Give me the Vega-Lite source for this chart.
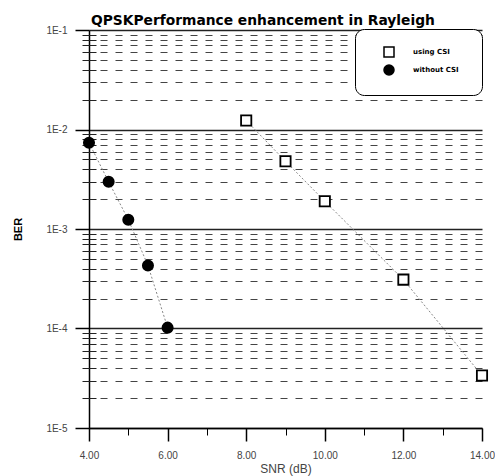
{
  "$schema": "https://vega.github.io/schema/vega-lite/v6.json",
  "width": 393,
  "height": 398,
  "autosize": "none",
  "padding": {"left": 89, "top": 30, "right": 13, "bottom": 48},
  "background": "white",
  "config": {"view": {"stroke": null}, "font": "Liberation Sans"},
  "title": {
    "text": "QPSKPerformance enhancement in Rayleigh",
    "anchor": "start",
    "frame": "group",
    "dx": 2,
    "offset": -14,
    "fontSize": 13.8,
    "fontWeight": "bold",
    "color": "black",
    "font": "DejaVu Sans",
    "baseline": "alphabetic"
  },
  "data": {
    "values": [
      {"series": "using CSI", "snr": 8, "ber": 0.0123},
      {"series": "using CSI", "snr": 9, "ber": 0.0048},
      {"series": "using CSI", "snr": 10, "ber": 0.0019},
      {"series": "using CSI", "snr": 12, "ber": 0.00031},
      {"series": "using CSI", "snr": 14, "ber": 0.0000337},
      {"series": "without CSI", "snr": 4, "ber": 0.00735},
      {"series": "without CSI", "snr": 4.5, "ber": 0.00298},
      {"series": "without CSI", "snr": 5, "ber": 0.00124},
      {"series": "without CSI", "snr": 5.5, "ber": 0.00043},
      {"series": "without CSI", "snr": 6, "ber": 0.000102}
    ]
  },
  "layer": [
    {
      "mark": {"type": "line", "color": "#888888", "strokeWidth": 1, "strokeDash": [2, 2]},
      "encoding": {
        "x": {
          "field": "snr", "type": "quantitative",
          "scale": {"domain": [4, 14], "nice": false, "zero": false},
          "axis": {
            "orient": "bottom",
            "values": [4, 6, 8, 10, 12, 14],
            "format": ".2f",
            "labelFlush": false,
            "labelFontSize": 10,
            "labelColor": "#444444",
            "labelPadding": 9,
            "tickSize": 13,
            "tickColor": "black",
            "tickWidth": 1.5,
            "domainColor": "black",
            "domainWidth": 1.5,
            "grid": false,
            "title": "SNR (dB)",
            "titleFontSize": 12,
            "titleFontWeight": "normal",
            "titleColor": "#444444",
            "titleBaseline": "alphabetic",
            "titleY": 44.5
          }
        },
        "y": {
          "field": "ber", "type": "quantitative",
          "scale": {"type": "log", "domain": [0.00001, 0.1], "nice": false},
          "axis": {
            "orient": "left",
            "values": [0.00001, 0.0001, 0.001, 0.01, 0.1],
            "labelExpr": "'1E' + round(log(datum.value)/LN10)",
            "labelFontSize": 10,
            "labelColor": "#444444",
            "labelPadding": 8,
            "tickSize": 14,
            "tickColor": "black",
            "tickWidth": 1.5,
            "domainColor": "black",
            "domainWidth": 1.5,
            "grid": true,
            "gridColor": "#222222",
            "gridWidth": 1.5,
            "title": "BER",
            "titleFontSize": 11,
            "titleFontWeight": "bold",
            "titleColor": "black",
            "titleX": -71,
            "titleY": 199,
            "titleAngle": -90,
            "titleAlign": "center",
            "titleBaseline": "middle"
          }
        },
        "detail": {"field": "series"}
      }
    },
    {
      "mark": {"type": "point", "filled": true, "stroke": "black", "strokeWidth": 1.8, "size": 105, "opacity": 1},
      "encoding": {
        "x": {
          "field": "snr", "type": "quantitative",
          "axis": {
            "orient": "bottom",
            "values": [5, 7, 9, 11, 13],
            "labels": false,
            "domain": false,
            "grid": false,
            "tickSize": 7,
            "tickColor": "black",
            "tickWidth": 1,
            "title": null
          }
        },
        "y": {
          "field": "ber", "type": "quantitative",
          "axis": {
            "orient": "left",
            "values": [0.00002, 0.00003, 0.00004, 0.00005, 0.00006, 0.00007, 0.00008, 0.00009,
                       0.0002, 0.0003, 0.0004, 0.0005, 0.0006, 0.0007, 0.0008, 0.0009,
                       0.002, 0.003, 0.004, 0.005, 0.006, 0.007, 0.008, 0.009,
                       0.02, 0.03, 0.04, 0.05, 0.06, 0.07, 0.08, 0.09],
            "offset": -7,
            "tickSize": 14,
            "tickColor": "#222222",
            "tickWidth": 1,
            "labels": false,
            "domain": false,
            "title": null,
            "grid": true,
            "gridDash": [7, 8],
            "gridDashOffset": 4,
            "gridColor": "#444444",
            "gridWidth": 1
          }
        },
        "shape": {
          "field": "series", "type": "nominal",
          "scale": {"domain": ["using CSI", "without CSI"], "range": ["square", "circle"]},
          "legend": {
            "orient": "none",
            "legendX": 266,
            "legendY": -1,
            "title": " ",
            "titleOrient": "right",
            "titlePadding": 6,
            "strokeColor": "black",
            "cornerRadius": 9,
            "fillColor": "white",
            "padding": 17,
            "symbolSize": 100,
            "symbolOffset": 11,
            "labelOffset": 18,
            "rowPadding": 2,
            "labelFont": "DejaVu Sans",
            "labelFontSize": 7,
            "labelFontWeight": "bold",
            "labelColor": "black",
            "encode": {
              "symbols": {
                "fill": {
                  "condition": {"test": "datum.value === 'using CSI'", "value": "white"},
                  "value": "black"
                },
                "stroke": {"value": "black"},
                "strokeWidth": {"value": 1.6}
              }
            }
          }
        },
        "fill": {
          "field": "series", "type": "nominal",
          "scale": {"domain": ["using CSI", "without CSI"], "range": ["white", "black"]},
          "legend": null
        }
      }
    }
  ],
  "resolve": {"axis": {"x": "independent", "y": "independent"}}
}
